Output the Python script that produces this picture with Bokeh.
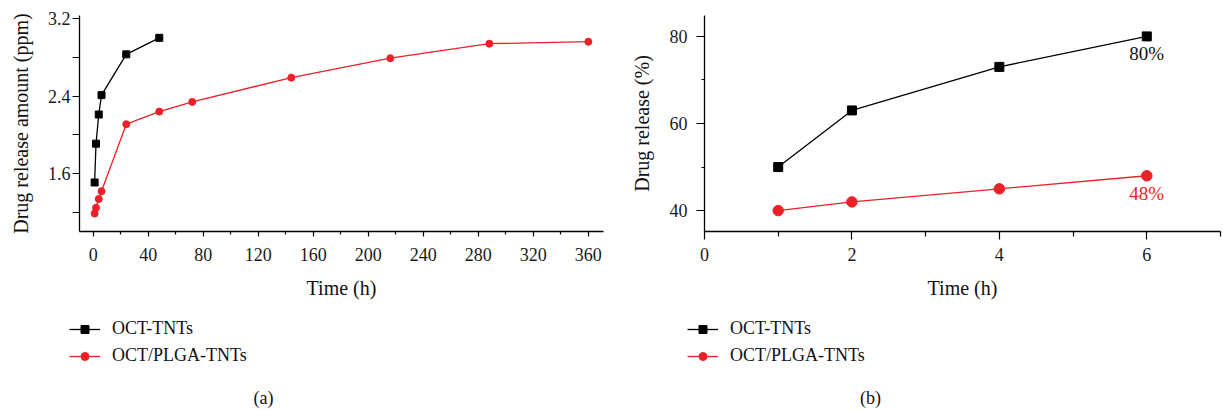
from bokeh.plotting import figure
from bokeh.layouts import row, column
from bokeh.models import FixedTicker, Legend, LegendItem, Label, Range1d
from bokeh.embed import file_html
from bokeh.resources import INLINE
from bokeh.core.properties import value

# ---------------- data ----------------
time_a_oct = [1, 2, 4, 6, 24, 48]
amount_a_oct = [1.51, 1.91, 2.21, 2.41, 2.83, 3.00]
time_a_plga = [1, 2, 4, 6, 24, 48, 72, 144, 216, 288, 360]
amount_a_plga = [1.19, 1.25, 1.34, 1.42, 2.11, 2.24, 2.34, 2.59, 2.79, 2.94, 2.96]

time_b = [1, 2, 4, 6]
release_b_oct = [50, 63, 73, 80]
release_b_plga = [40, 42, 45, 48]

a_xticks = [0, 40, 80, 120, 160, 200, 240, 280, 320, 360]
a_xminor = [20, 60, 100, 140, 180, 220, 260, 300, 340]
a_yticks = [1.6, 2.4, 3.2]
a_yminor = [1.2, 2.0, 2.8]
b_xticks = [0, 2, 4, 6]
b_xminor = [1, 3, 5, 7]
b_yticks = [40, 60, 80]
b_yminor = [50, 70]

series_names = ["OCT-TNTs", "OCT/PLGA-TNTs"]
end_labels = ["80%", "48%"]
captions = ["(a)", "(b)"]
x_title = "Time (h)"
y_title_a = "Drug release amount (ppm)"
y_title_b = "Drug release (%)"

BLACK = "#000000"
RED = "#ec2027"
FONT = "Liberation Serif"
TOP_H = 315
BOT_H = 410 - TOP_H
LEG_ITEM_H = 20
LEG_SPACING = 6
LEG_H = 2 * LEG_ITEM_H + LEG_SPACING
NAN = float("nan")


def style_axis(ax, ticks, minor, major_out, minor_out, label_standoff, title_standoff):
    ax.ticker = FixedTicker(ticks=ticks, minor_ticks=minor)
    ax.axis_line_color = "black"
    ax.axis_line_width = 1.3
    ax.major_tick_line_color = "black"
    ax.minor_tick_line_color = "black"
    ax.major_tick_line_width = 1.2
    ax.minor_tick_line_width = 1.2
    ax.major_tick_in = 0
    ax.major_tick_out = major_out
    ax.minor_tick_in = 0
    ax.minor_tick_out = minor_out
    ax.major_label_text_font = FONT
    ax.major_label_text_font_size = "18px"
    ax.major_label_text_color = "#1a1a1a"
    ax.axis_label_text_font = FONT
    ax.axis_label_text_font_size = "20px"
    ax.axis_label_text_font_style = "normal"
    ax.axis_label_text_color = "#111111"
    ax.major_label_standoff = label_standoff
    ax.axis_label_standoff = title_standoff


def clean(p):
    p.xgrid.visible = False
    p.ygrid.visible = False
    p.outline_line_color = None


def legend_panel(width, legend_x, caption_x, caption):
    q = figure(width=width, height=BOT_H, output_backend="svg", toolbar_location=None,
               x_range=Range1d(0, width), y_range=Range1d(BOT_H, 0),
               x_axis_location=None, y_axis_location=None,
               min_border=0, min_border_left=0, min_border_right=0,
               min_border_top=0, min_border_bottom=0)
    clean(q)
    # legend-only renderers (no visible marks: a single NaN point)
    l1 = q.line(x=[NAN], y=[NAN], line_color=BLACK, line_width=1.3)
    s1 = q.scatter(x=[NAN], y=[NAN], marker="square", fill_color=BLACK, line_color=BLACK)
    l2 = q.line(x=[NAN], y=[NAN], line_color=RED, line_width=1.3)
    s2 = q.scatter(x=[NAN], y=[NAN], marker="circle", fill_color=RED, line_color=RED)
    leg = Legend(
        items=[LegendItem(label=series_names[0], renderers=[l1, s1]),
               LegendItem(label=series_names[1], renderers=[l2, s2])],
        location=(legend_x, BOT_H - 5 - LEG_H), orientation="vertical",
        glyph_width=31, glyph_height=LEG_ITEM_H, label_height=LEG_ITEM_H,
        label_standoff=12, spacing=LEG_SPACING, padding=0, margin=0,
        border_line_alpha=0, background_fill_alpha=0,
        label_text_font=FONT, label_text_font_size="18px",
        label_text_color="#111111",
    )
    q.add_layout(leg)
    q.add_layout(Label(x=caption_x, y=397 - TOP_H, text=caption,
                       text_align="center", text_baseline="middle",
                       text_font=FONT, text_font_size="18px", text_color="#111111"))
    return q


# ---------------- panel (a) ----------------
pa = figure(width=611, height=TOP_H, output_backend="svg", toolbar_location=None,
            x_range=Range1d(-10, 371), y_range=Range1d(1.005, 3.23),
            min_border_left=79, min_border_right=8, min_border_top=15,
            min_border_bottom=TOP_H - 232, x_axis_label=x_title, y_axis_label=y_title_a)
clean(pa)
style_axis(pa.xaxis[0], a_xticks, a_xminor, 5, 3, 11, 13)
style_axis(pa.yaxis[0], a_yticks, a_yminor, 7, 7, 2, 13)

pa.line(time_a_oct, amount_a_oct, line_color=BLACK, line_width=1.3)
pa.scatter(time_a_oct, amount_a_oct, marker="square", size=7,
           fill_color=BLACK, line_color=BLACK)
pa.line(time_a_plga, amount_a_plga, line_color=RED, line_width=1.3)
pa.scatter(time_a_plga, amount_a_plga, marker="circle", size=7,
           fill_color=RED, line_color=RED)

# ---------------- panel (b) ----------------
pb = figure(width=612, height=TOP_H, output_backend="svg", toolbar_location=None,
            x_range=Range1d(0, 7), y_range=Range1d(35.2, 84.8),
            min_border_left=93, min_border_right=3, min_border_top=15,
            min_border_bottom=TOP_H - 231, x_axis_label=x_title, y_axis_label=y_title_b)
clean(pb)
style_axis(pb.xaxis[0], b_xticks, b_xminor, 8, 5, 8, 13)
style_axis(pb.yaxis[0], b_yticks, b_yminor, 8, 3, 9, 14)

pb.line(time_b, release_b_oct, line_color=BLACK, line_width=1.3)
pb.scatter(time_b, release_b_oct, marker="square", size=9,
           fill_color=BLACK, line_color=BLACK)
pb.line(time_b, release_b_plga, line_color=RED, line_width=1.3)
pb.scatter(time_b, release_b_plga, marker="circle", size=10.5,
           fill_color=RED, line_color=RED)
pb.text(x=[time_b[-1]], y=[release_b_oct[-1]], text=[end_labels[0]], y_offset=17,
        text_align="center", text_baseline="middle", text_font=value(FONT),
        text_font_size="19px", text_color="#111111")
pb.text(x=[time_b[-1]], y=[release_b_plga[-1]], text=[end_labels[1]], y_offset=18,
        text_align="center", text_baseline="middle", text_font=value(FONT),
        text_font_size="19px", text_color=RED)

qa = legend_panel(611, 69, 263, captions[0])
qb = legend_panel(612, 687 - 611, 870 - 611, captions[1])

layout = column(row(pa, pb, spacing=0), row(qa, qb, spacing=0), spacing=0)
open("out.html", "w").write(file_html(layout, INLINE))
